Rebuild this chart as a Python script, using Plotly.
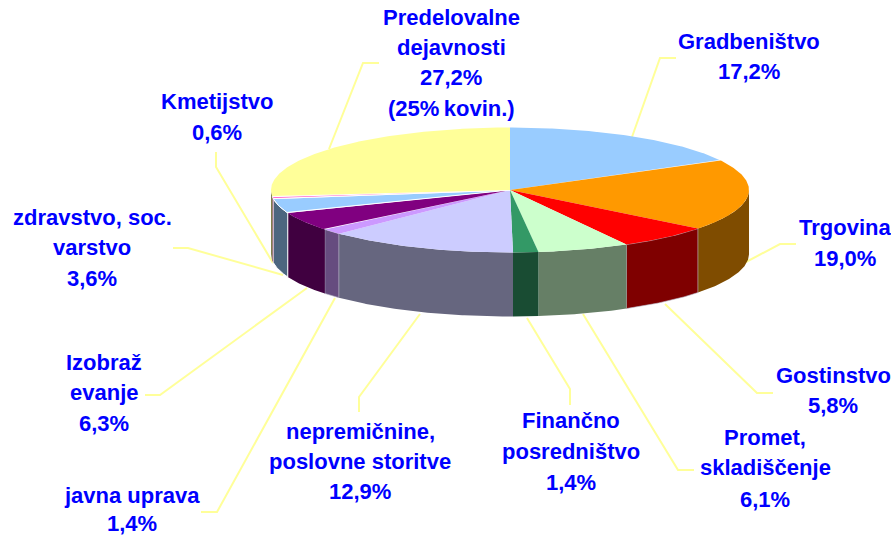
import math
import numpy as np
import plotly.graph_objects as go

# Data
categories = ["Gradbeništvo", "Trgovina", "Gostinstvo", "Promet, skladiščenje",
              "Finančno posredništvo", "nepremičnine, poslovne storitve",
              "javna uprava", "Izobraževanje", "zdravstvo, soc. varstvo",
              "Kmetijstvo", "Predelovalne dejavnosti"]
printed_percent = [17.2, 19.0, 5.8, 6.1, 1.4, 12.9, 1.4, 6.3, 3.6, 0.6, 27.2]
# slice sizes as actually drawn in the picture (read from the rim)
drawn_share = [17.0, 18.6, 6.3, 6.2, 1.7, 12.9, 1.4, 4.9, 3.8, 0.5, 26.7]
top_colors = ["#99CCFF", "#FF9900", "#FF0000", "#CCFFCC", "#339966", "#CCCCFF",
              "#CC99FF", "#800080", "#99CCFF", "#FF66CC", "#FFFF99"]
label_lines = [
    ["Gradbeništvo", "17,2%"],
    ["Trgovina", "19,0%"],
    ["Gostinstvo", "5,8%"],
    ["Promet,", "skladiščenje", "6,1%"],
    ["Finančno", "posredništvo", "1,4%"],
    ["nepremičnine,", "poslovne storitve", "12,9%"],
    ["javna uprava", "1,4%"],
    ["Izobraž", "evanje", "6,3%"],
    ["zdravstvo, soc.", "varstvo", "3,6%"],
    ["Kmetijstvo", "0,6%"],
    ["Predelovalne", "dejavnosti", "27,2%", "(25%\u2009kovin.)"],
]

# Layout (pixel space of the page)
W, H = 891, 537
CX, CY, RX, RY, DEPTH = 510, 190, 239, 62.5, 64
label_pos = [(749, [41, 71]), (845, [227, 258]), (833, [375, 405]),
             (765, [437, 467, 499]), (571, [420, 451, 482]), (360, [431, 461, 491]),
             (132, [495, 523]), (104, [362, 392, 423]), (92, [217, 247, 278]),
             (217, [101, 132]), (451, [17, 47, 77, 108])]
leaders = [[(632, 137), (660, 58), (676, 58)],
           [(746, 262), (780, 244), (796, 244)],
           [(665, 304), (757, 393), (773, 393)],
           [(583, 314), (678, 470), (694, 470)],
           [(527, 318), (570, 389), (570, 405)],
           [(420, 314), (359, 397), (359, 412)],
           [(335, 298), (217, 512), (201, 512)],
           [(307, 288), (160, 395), (145, 395)],
           [(283, 275), (188, 248), (173, 248)],
           [(273, 263), (216, 167), (216, 152)],
           [(329, 149), (363, 63), (379, 63)]]
LEADER = "#FFFF99"


def dark(c):
    r, g, b = [int(c[i:i + 2], 16) for i in (1, 3, 5)]
    return f"rgb({r // 2},{g // 2},{b // 2})"


def rim(a, b, dy=0.0):
    t = np.radians(np.linspace(a, b, max(3, int(abs(b - a) * 2))))
    return CX + RX * np.sin(t), CY - RY * np.cos(t) + dy


fig = go.Figure()
edges = 360 * np.cumsum([0] + drawn_share) / sum(drawn_share)


def poly(xs, ys, color, lw=0, lc="white"):
    fig.add_trace(go.Scatter(x=list(xs), y=list(ys), mode="lines", fill="toself",
                             fillcolor=color, hoverinfo="skip", showlegend=False,
                             line=dict(width=lw, color=lc)))


# leader lines sit behind the pie
for pts in leaders:
    fig.add_trace(go.Scatter(x=[p[0] for p in pts], y=[p[1] for p in pts], mode="lines",
                             line=dict(color=LEADER, width=2), hoverinfo="skip",
                             showlegend=False))

# side walls of the front half
for i, c in enumerate(top_colors):
    a, b = max(edges[i], 90), min(edges[i + 1], 270)
    if b <= a:
        continue
    x, y = rim(a, b)
    x2, y2 = rim(b, a, DEPTH)
    lw, lc = (1, "#FFFFFF") if categories[i].startswith("zdrav") else \
             (0.6, "#B8B8C8") if categories[i] in ("javna uprava", "Gostinstvo") else (0, "white")
    poly(np.r_[x, x2, x[0]], np.r_[y, y2, y[0]], dark(c), lw, lc)

# top faces
for i, c in enumerate(top_colors):
    x, y = rim(edges[i], edges[i + 1])
    lw = 1 if categories[i].startswith(("zdrav", "Kmet")) else 0
    poly(np.r_[CX, x, CX], np.r_[CY, y, CY], c, lw)

# labels: one annotation per printed line, to keep the wide line pitch
for lines, (lx, ys) in zip(label_lines, label_pos):
    for text, ly in zip(lines, ys):
        fig.add_annotation(x=lx, y=ly, text=f"<b>{text}</b>", showarrow=False,
                           xanchor="center", yanchor="middle",
                           font=dict(family="Liberation Sans", size=22, color="#0000FF"))

fig.update_layout(width=W, height=H, margin=dict(l=0, r=0, t=0, b=0),
                  paper_bgcolor="white", plot_bgcolor="white", showlegend=False,
                  xaxis=dict(range=[0, W], visible=False, fixedrange=True),
                  yaxis=dict(range=[H, 0], visible=False, fixedrange=True))
fig.write_html("out.html", config={"displayModeBar": False},
               post_script="document.body.style.margin='0';")
